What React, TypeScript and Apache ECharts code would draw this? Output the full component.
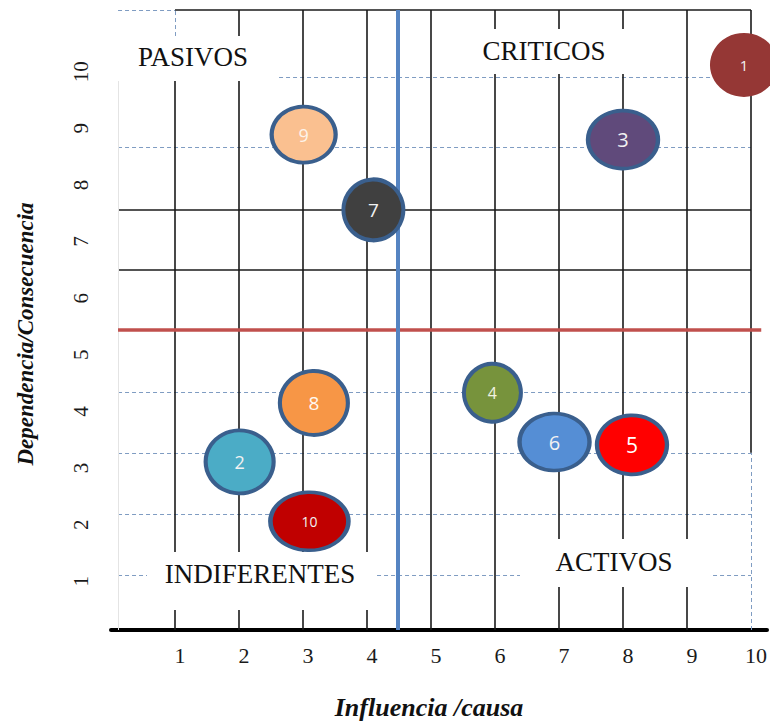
import React, { useEffect, useRef } from "react";
import * as echarts from "echarts";

// ---- data ----
const bubbleNames = ["1", "2", "3", "4", "5", "6", "7", "8", "9", "10"];
const influencia = [9.89, 2.01, 8.0, 5.96, 8.14, 6.93, 4.1, 3.17, 3.01, 3.1];
const dependencia = [10.12, 3.11, 8.8, 4.33, 3.41, 3.46, 7.56, 4.15, 8.89, 2.06];

const xTickLabels = ["1", "2", "3", "4", "5", "6", "7", "8", "9", "10"];
const yTickLabels = ["1", "2", "3", "4", "5", "6", "7", "8", "9", "10"];

const quadrantNames = ["PASIVOS", "CRITICOS", "INDIFERENTES", "ACTIVOS"];
const xAxisTitle = "Influencia /causa";
const yAxisTitle = "Dependencia/Consecuencia";

const influenciaThreshold = 4.48;
const dependenciaThreshold = 5.44;

const verticalGridLevels = [1, 2, 3, 4, 5, 6, 7, 8, 9, 10];
const dashedGridLevels = [1.11, 2.18, 3.27, 4.34, 8.67, 9.91];
const solidGridLevels = [6.51, 7.56];

// axis extents
const X_MIN = 0;
const X_MAX = 10.25;
const Y_MIN = 0.14;
const Y_MAX = 11.09;

// ---- styles ----
const bubbleColors = ["#953735", "#4bacc6", "#604a7b", "#77933c", "#ff0000", "#558ed5", "#404040", "#f79646", "#fac090", "#c00000"];
const bubbleBorderWidths = [0, 4, 4, 4, 4, 4, 4, 4, 4, 4];
const bubbleSizes: [number, number][] = [
  [68, 64], [68, 63], [70, 58], [57, 58], [70, 59], [70, 57], [60, 61], [68, 64], [64, 56], [78, 58],
];
const bubbleLabelSizes = [15, 18, 20, 16, 21, 20, 19, 19, 18, 14];
const bubbleLabelColors = ["#f2f2f2", "#f2f2f2", "#f2f2f2", "#f2f2e0", "#ffffff", "#f2f2f2", "#f2f2f2", "#fff8f0", "#fdf3ea", "#f2f2f2"];
const BORDER = "#3a5f8d";
const SERIF = "'Liberation Serif', 'Times New Roman', serif";
const SANS = "'Open Sans', 'Liberation Sans', sans-serif";

const dashStyle = { color: "#7f9cc2", width: 1, type: [4, 3] as any };
const solidStyle = { color: "#1a1a1a", width: 1.6, type: "solid" as any };

function seg(x1: number, y1: number, x2: number, y2: number, lineStyle: any) {
  return [
    { coord: [x1, y1], lineStyle },
    { coord: [x2, y2], lineStyle },
  ];
}

export default function App() {
  const ref = useRef<HTMLDivElement>(null);

  useEffect(() => {
    if (!ref.current) return;
    const chart = echarts.init(ref.current, undefined, { renderer: "svg" });

    const gridLines: any[] = [];
    dashedGridLevels.forEach((y) => gridLines.push(seg(0.11, y, 10, y, dashStyle)));
    solidGridLevels.forEach((y) => gridLines.push(seg(0.11, y, 10, y, solidStyle)));
    verticalGridLevels.forEach((x) => {
      if (x === 10) {
        gridLines.push(seg(x, Y_MIN, x, dashedGridLevels[2], dashStyle));
        gridLines.push(seg(x, dashedGridLevels[2], x, Y_MAX, solidStyle));
      } else if (x === 1) {
        gridLines.push(seg(x, Y_MIN, x, 10.63, solidStyle));
        gridLines.push(seg(x, 10.63, x, Y_MAX, dashStyle));
      } else {
        gridLines.push(seg(x, Y_MIN, x, Y_MAX, solidStyle));
      }
    });
    gridLines.push(seg(1, Y_MAX, 10, Y_MAX, solidStyle));
    gridLines.push(seg(0.11, Y_MAX, 1, Y_MAX, dashStyle));
    // faint left edge of the plot area
    gridLines.push(seg(0.11, Y_MIN, 0.11, 10.2, { color: "#e4e4e4", width: 1, type: "solid" }));
    // quadrant dividers
    gridLines.push(seg(0.11, dependenciaThreshold, 10.16, dependenciaThreshold, { color: "#c0504d", width: 3.5, type: "solid" }));
    gridLines.push(seg(influenciaThreshold, Y_MIN, influenciaThreshold, Y_MAX, { color: "#5584c2", width: 4, type: "solid" }));

    const bubbleData = bubbleNames.map((n, i) => ({
      name: n,
      value: [influencia[i], dependencia[i]],
      symbolSize: bubbleSizes[i],
      itemStyle: {
        color: bubbleColors[i],
        borderColor: bubbleBorderWidths[i] ? BORDER : bubbleColors[i],
        borderWidth: bubbleBorderWidths[i],
        opacity: 1,
      },
      label: { fontSize: bubbleLabelSizes[i], color: bubbleLabelColors[i] },
    }));

    const boxes = [
      { name: quadrantNames[0], x: 118, y: 36, w: 161, h: 45, tx: 193, ty: 57 },
      { name: quadrantNames[1], x: 445, y: 29, w: 235, h: 45, tx: 544, ty: 51 },
      { name: quadrantNames[2], x: 147, y: 552, w: 230, h: 58, tx: 260, ty: 574 },
      { name: quadrantNames[3], x: 520, y: 539, w: 190, h: 48, tx: 614, ty: 562 },
    ];
    const graphicEls: any[] = [];
    boxes.forEach((b) => {
      graphicEls.push({
        type: "rect",
        left: b.x,
        top: b.y,
        z: 50,
        shape: { width: b.w, height: b.h },
        style: { fill: "#ffffff" },
        silent: true,
      });
      graphicEls.push({
        type: "text",
        x: b.tx,
        y: b.ty,
        z: 51,
        style: {
          text: b.name,
          font: `27px ${SERIF}`,
          fill: "#111111",
          textAlign: "center",
          textVerticalAlign: "middle",
        },
        silent: true,
      });
    });

    const isTick = (v: number, labels: string[]) => {
      const r = Math.round(v);
      return Math.abs(v - r) < 1e-6 && labels.includes(String(r)) ? String(r) : "";
    };

    chart.setOption({
      animation: false,
      backgroundColor: "#ffffff",
      grid: { left: 111, right: 2, top: 10, bottom: 93, containLabel: false },
      xAxis: {
        type: "value",
        min: X_MIN,
        max: X_MAX,
        interval: 1,
        name: xAxisTitle,
        nameLocation: "middle",
        nameGap: 64,
        nameTextStyle: {
          fontFamily: SERIF,
          fontSize: 26,
          fontWeight: "bold",
          fontStyle: "italic",
          color: "#111",
          padding: [0, 20, 0, 0],
        },
        axisLine: { show: true, lineStyle: { color: "#000", width: 4 } },
        axisTick: { show: false },
        splitLine: { show: false },
        axisLabel: {
          fontFamily: SERIF,
          fontSize: 22,
          color: "#1a1a1a",
          margin: 14,
          padding: [0, 0, 0, 10],
          formatter: (v: number) => isTick(v, xTickLabels),
        },
      },
      yAxis: {
        type: "value",
        min: Y_MIN,
        max: Y_MAX,
        minInterval: 1,
        maxInterval: 1,
        name: yAxisTitle,
        nameLocation: "middle",
        nameRotate: 90,
        nameGap: 74,
        nameTextStyle: {
          fontFamily: SERIF,
          fontSize: 23,
          fontWeight: "bold",
          fontStyle: "italic",
          color: "#111",
          padding: [0, 28, 0, 0],
        },
        axisLine: { show: false },
        axisTick: { show: false },
        splitLine: { show: false },
        axisLabel: {
          rotate: 90,
          fontFamily: SERIF,
          fontSize: 21,
          color: "#1a1a1a",
          margin: 20,
          formatter: (v: number) => isTick(v, yTickLabels),
        },
      },
      graphic: { elements: graphicEls },
      series: [
        {
          type: "scatter",
          name: "grid",
          data: [],
          z: 1,
          silent: true,
          markLine: {
            z: 1,
            silent: true,
            symbol: ["none", "none"],
            label: { show: false },
            emphasis: { disabled: true },
            animation: false,
            data: gridLines,
          },
        },
        {
          type: "scatter",
          name: "variables",
          z: 10,
          symbol: "circle",
          itemStyle: { opacity: 1 },
          data: bubbleData,
          label: {
            show: true,
            position: "inside",
            formatter: "{b}",
            fontFamily: SANS,
          },
          emphasis: { disabled: true },
        },
      ],
    });

    return () => chart.dispose();
  }, []);

  return (
    <div
      ref={ref}
      style={{ position: "fixed", left: 0, top: 0, width: 770, height: 725, background: "#fff" }}
    />
  );
}
